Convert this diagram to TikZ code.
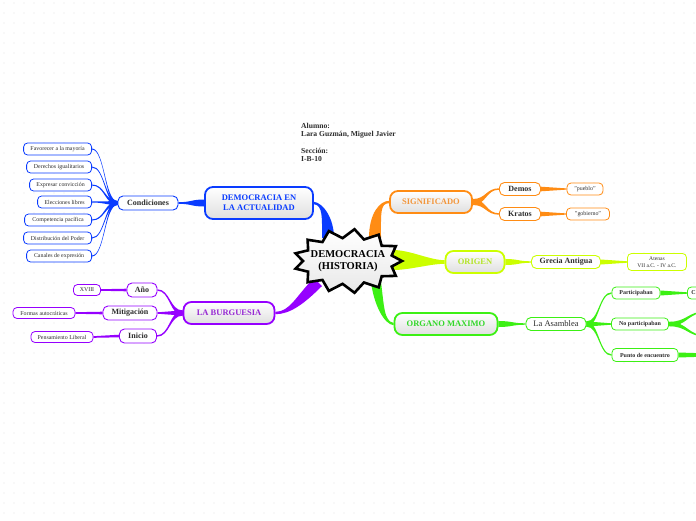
\documentclass[tikz,border=0pt]{standalone}
\usepackage{fontspec}
\setmainfont{Liberation Serif}
\usetikzlibrary{calc}
\definecolor{cblue}{RGB}{10,60,255}
\definecolor{corange}{RGB}{255,140,20}
\definecolor{corangetext}{RGB}{242,150,60}
\definecolor{cyel}{RGB}{204,255,0}
\definecolor{cyeltext}{RGB}{180,228,40}
\definecolor{cgreen}{RGB}{60,240,20}
\definecolor{cgreentext}{RGB}{50,215,40}
\definecolor{cpurple}{RGB}{150,0,255}
\definecolor{cpurpletext}{RGB}{150,40,210}
\definecolor{txt}{RGB}{45,45,45}
\definecolor{dotc}{RGB}{225,225,225}
\pgfdeclarelayer{dotlayer}
\pgfdeclarelayer{bandlayer}
\pgfdeclarelayer{starlayer}
\pgfsetlayers{dotlayer,bandlayer,starlayer,main}
% tapered band: from, ctrl1, ctrl2, to, offset at from, offset at to, colour
\newcommand\band[7]{\fill[#7] ($#1+#5$) .. controls ($#2+#5$) and ($#3+#6$) .. ($#4+#6$) -- ($#4-#6$) .. controls ($#3-#6$) and ($#2-#5$) .. ($#1-#5$) -- cycle;}
% horizontal tapered S-band: from, to, half width at from, half width at to, colour
\newcommand\hb[5]{\fill[#5] let \p1=#1, \p2=#2 in
 (\x1,{\y1+#3pt}) .. controls ({(\x1+\x2)/2},{\y1+#3pt}) and ({(\x1+\x2)/2},{\y2+#4pt}) .. (\x2,{\y2+#4pt})
 -- (\x2,{\y2-#4pt}) .. controls ({(\x1+\x2)/2},{\y2-#4pt}) and ({(\x1+\x2)/2},{\y1-#3pt}) .. (\x1,{\y1-#3pt}) -- cycle;}
\tikzset{
 mainbox/.style={draw=#1, line width=1.8pt, rounded corners=8pt, top color=white, bottom color=gray!25,
   font=\bfseries\fontsize{8.5}{9.6}\selectfont, align=center, inner sep=0pt},
 subbox/.style={draw=#1, line width=0.9pt, rounded corners=5pt, fill=white, text=txt,
   font=\bfseries\fontsize{8}{9}\selectfont, inner sep=0pt},
 leafbox/.style={draw=#1, line width=0.8pt, rounded corners=4pt, fill=white, text=txt,
   font=\fontsize{5.9}{6.6}\selectfont, align=center, inner sep=0pt},
 gleaf/.style={leafbox=cgreen, font=\bfseries\fontsize{6}{7}\selectfont},
}
\begin{document}
\begin{tikzpicture}[x=1pt,y=-1pt]
\useasboundingbox (0,0) rectangle (696,520);
\clip (0,0) rectangle (696,520);
\begin{pgfonlayer}{dotlayer}
\fill[white] (0,0) rectangle (696,520);
\foreach \i in {0,...,69}{\foreach \j in {0,...,51}{\fill[dotc] (4+10*\i,3+10*\j) circle (0.6);}}
\end{pgfonlayer}

\path
 node[mainbox=cblue, text=cblue, minimum width=108, minimum height=32] (act) at (259,203) {DEMOCRACIA EN\\LA ACTUALIDAD}
 node[subbox=cblue, minimum width=60, minimum height=14] (cond) at (148,203) {Condiciones}
 node[leafbox=cblue, minimum width=68, minimum height=12, anchor=east] (l1) at (92,149) {Favorecer a la mayoría}
 node[leafbox=cblue, minimum width=65, minimum height=12, anchor=east] (l2) at (92,167) {Derechos igualitarios}
 node[leafbox=cblue, minimum width=62, minimum height=12, anchor=east] (l3) at (92,185) {Expresar convicción}
 node[leafbox=cblue, minimum width=54, minimum height=12, anchor=east] (l4) at (92,202) {Elecciones libres}
 node[leafbox=cblue, minimum width=67, minimum height=12, anchor=east] (l5) at (92,220) {Competencia pacífica}
 node[leafbox=cblue, minimum width=68, minimum height=12, anchor=east] (l6) at (92,238) {Distribución del Poder}
 node[leafbox=cblue, minimum width=65, minimum height=12, anchor=east] (l7) at (92,256) {Canales de expresión}
 node[mainbox=cpurple, text=cpurpletext, minimum width=91, minimum height=22] (bur) at (229,313) {LA BURGUESIA}
 node[subbox=cpurple, minimum width=30, minimum height=14] (ano) at (142,290) {Año}
 node[subbox=cpurple, minimum width=54, minimum height=14] (mit) at (130,313) {Mitigación}
 node[subbox=cpurple, minimum width=37, minimum height=14] (ini) at (138,336) {Inicio}
 node[leafbox=cpurple, minimum width=27, minimum height=11] (xviii) at (87,290) {XVIII}
 node[leafbox=cpurple, minimum width=62, minimum height=11] (form) at (44,313) {Formas autocráticas}
 node[leafbox=cpurple, minimum width=62, minimum height=11] (pens) at (62,337) {Pensamiento Liberal}
 node[mainbox=corange, text=corangetext, minimum width=82, minimum height=22] (sig) at (431,202) {SIGNIFICADO}
 node[subbox=corange, minimum width=41, minimum height=13] (demos) at (520,189) {Demos}
 node[subbox=corange, minimum width=41, minimum height=13] (kratos) at (520,214) {Kratos}
 node[leafbox=corange, minimum width=36, minimum height=12] (pueblo) at (585,189) {"pueblo"}
 node[leafbox=corange, minimum width=43, minimum height=12] (gob) at (588,214) {"gobierno"}
 node[mainbox=cyel, text=cyeltext, minimum width=59, minimum height=22] (origen) at (475,262) {ORIGEN}
 node[subbox=cyel, minimum width=69, minimum height=13] (grecia) at (566,262) {Grecia Antigua}
 node[leafbox=cyel, minimum width=59, minimum height=17, font=\fontsize{5.6}{6.4}\selectfont] (atenas) at (657,262) {Atenas\\VII a.C. - IV a.C.}
 node[mainbox=cgreen, text=cgreentext, minimum width=103, minimum height=22] (org) at (446,324) {ORGANO MAXIMO}
 node[subbox=cgreen, minimum width=60, minimum height=13, font=\fontsize{8.5}{9}\selectfont] (asam) at (556,324) {La Asamblea}
 node[gleaf, minimum width=48, minimum height=12] (part) at (636,293) {Participaban}
 node[gleaf, minimum width=57, minimum height=12] (nopart) at (640,324) {No participaban}
 node[gleaf, minimum width=66, minimum height=13] (punto) at (645,355) {Punto de encuentro}
 node[gleaf, minimum height=12, text width=30pt, align=left, inner xsep=4pt, anchor=west] (cnode) at (687,293) {C}
 node[font=\fontsize{10.5}{11.5}\selectfont\bfseries, align=center] (c) at (348,261) {DEMOCRACIA\\(HISTORIA)};

\node[anchor=north west, align=left, text=txt, inner sep=0pt, font=\bfseries\fontsize{7.6}{8.2}\selectfont] (alumno) at (301,123)
 {Alumno:\\Lara Guzmán, Miguel Javier\\[8.2pt]Sección:\\I-B-10};

\coordinate (np1) at (706,312);
\coordinate (np2) at (706,336);
\coordinate (pt1) at (730,355);

\begin{pgfonlayer}{bandlayer}
\band{(act.east)}{(323,204)}{(328,218)}{(328,238)}{(0,1.2)}{(-6,0)}{cblue}
\band{(sig.west)}{(380,202)}{(375,213)}{(375,238)}{(0,-1.2)}{(-6,0)}{corange}
\band{(org.west)}{(384,323)}{(379,305)}{(376,282)}{(0,-1.2)}{(5,0)}{cgreen}
\band{(bur.east)}{(290,313)}{(300,300)}{(318,282)}{(0,1.2)}{(4,4)}{cpurple}
\band{(origen.west)}{(430,262)}{(410,260)}{(393,260)}{(0,1.8)}{(0,10)}{cyel}

\hb{(act.west)}{(cond.east)}{3.5}{0.8}{cblue}
\foreach \nd in {l1,l2,l3,l4,l5,l6,l7}{\hb{(cond.west)}{(\nd.east)}{1.9}{0.5}{cblue}}
\foreach \nd in {ano,mit,ini}{\hb{(bur.west)}{(\nd.east)}{2.6}{0.7}{cpurple}}
\hb{(ano.west)}{(xviii.east)}{1.3}{0.8}{cpurple}
\hb{(mit.west)}{(form.east)}{1.3}{0.8}{cpurple}
\hb{(ini.west)}{(pens.east)}{1.3}{0.8}{cpurple}
\foreach \nd in {demos,kratos}{\hb{(sig.east)}{(\nd.west)}{3}{0.7}{corange}}
\hb{(demos.east)}{(pueblo.west)}{2.3}{0.6}{corange}
\hb{(kratos.east)}{(gob.west)}{2.3}{0.6}{corange}
\hb{(origen.east)}{(grecia.west)}{3}{0.7}{cyel}
\hb{(grecia.east)}{(atenas.west)}{2.5}{0.7}{cyel}
\hb{(org.east)}{(asam.west)}{3}{0.7}{cgreen}
\foreach \nd in {part,nopart,punto}{\hb{(asam.east)}{(\nd.west)}{2.6}{0.7}{cgreen}}
\hb{(part.east)}{(cnode.west)}{2.5}{0.7}{cgreen}
\hb{(nopart.east)}{(np1)}{2.2}{0.6}{cgreen}
\hb{(nopart.east)}{(np2)}{2.2}{0.6}{cgreen}
\hb{(punto.east)}{(pt1)}{2.5}{0.8}{cgreen}
\end{pgfonlayer}

\begin{pgfonlayer}{starlayer}
\draw[line width=2.6pt, line join=miter, top color=white, bottom color=gray!18]
  plot[variable=\k, samples at={0,...,25}]
  ({348+ifthenelse(mod(\k,2)==0,54,45)*cos(\k*360/26)},{261+ifthenelse(mod(\k,2)==0,32,23)*sin(\k*360/26)}) -- cycle;
\end{pgfonlayer}
\end{tikzpicture}
\end{document}
